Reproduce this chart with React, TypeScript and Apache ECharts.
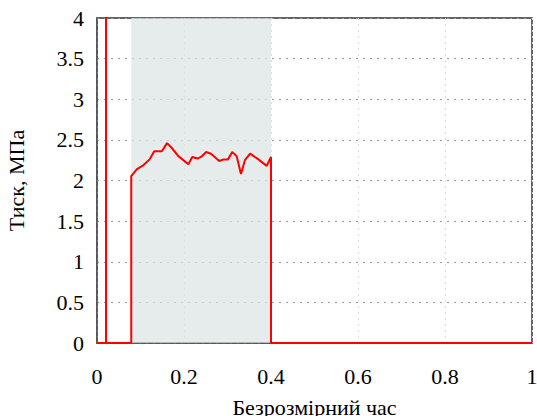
import React, { useEffect, useRef } from "react";
import * as echarts from "echarts";

// Dimensionless time (x) and pressure in MPa (y)
const timeValues: number[] = [
  0, 0.0207, 0.0207, 0.0207, 0.0787, 0.0787, 0.0918, 0.107, 0.121, 0.1315, 0.149, 0.161,
  0.172, 0.187, 0.21, 0.219, 0.231, 0.239, 0.251, 0.262, 0.281, 0.291, 0.301,
  0.311, 0.321, 0.331, 0.34, 0.352, 0.371, 0.39, 0.4, 0.4, 1,
];
const pressureValues: number[] = [
  0, 0, 5, 0, 0, 2.055, 2.14, 2.19, 2.26, 2.36, 2.36, 2.46,
  2.4, 2.3, 2.2, 2.29, 2.27, 2.29, 2.35, 2.33, 2.24, 2.26, 2.26,
  2.35, 2.3, 2.08, 2.25, 2.33, 2.26, 2.18, 2.29, 0, 0,
];
const shadedRange: number[] = [0.0787, 0.4];
const xTicks = { min: 0, max: 1, interval: 0.2 };
const yTicks = { min: 0, max: 4, interval: 0.5 };

const FONT = "Times New Roman, Liberation Serif, serif";

export default function App() {
  const ref = useRef<HTMLDivElement>(null);
  useEffect(() => {
    if (!ref.current) return;
    const chart = echarts.init(ref.current, null, { renderer: "svg" });
    const data = timeValues.map((t, i) => [t, pressureValues[i]]);
    chart.setOption({
      animation: false,
      backgroundColor: "#fff",
      textStyle: { fontFamily: FONT },
      grid: {
        left: 97,
        right: 5,
        top: 18,
        bottom: 73,
        outerBoundsMode: "none",
        containLabel: false,
        show: true,
        borderColor: "#333",
        borderWidth: 1.5,
        backgroundColor: "transparent",
      },
      xAxis: {
        type: "value",
        min: xTicks.min,
        max: xTicks.max,
        interval: xTicks.interval,
        name: "Безрозмірний час",
        nameLocation: "middle",
        nameGap: 53,
        nameTextStyle: { fontFamily: FONT, fontSize: 22, color: "#000" },
        axisLine: { show: true, lineStyle: { color: "#555", width: 1.5 } },
        axisTick: { show: false },
        axisLabel: { fontFamily: FONT, fontSize: 22, color: "#000", margin: 22 },
        splitLine: { show: true, lineStyle: { color: "#ddd", type: [2, 4], width: 1 } },
      },
      yAxis: {
        type: "value",
        min: yTicks.min,
        max: yTicks.max,
        interval: yTicks.interval,
        name: "Тиск, МПа",
        nameLocation: "middle",
        nameGap: 70,
        nameTextStyle: { fontFamily: FONT, fontSize: 22, color: "#000" },
        axisLine: { show: true, lineStyle: { color: "#555", width: 1.5 } },
        axisTick: { show: false },
        axisLabel: { fontFamily: FONT, fontSize: 22, color: "#000", margin: 13 },
        splitLine: { show: true, lineStyle: { color: "#999", type: [2, 5], width: 1 } },
      },
      series: [
        {
          type: "line",
          data,
          symbol: "none",
          clip: true,
          lineStyle: { color: "#ff0000", width: 2 },
          markArea: {
            silent: true,
            itemStyle: { color: "rgba(220,228,228,0.7)" },
            data: [[{ xAxis: shadedRange[0] }, { xAxis: shadedRange[1] }]],
          },
        },
      ],
    });
    return () => chart.dispose();
  }, []);
  return (
    <div
      ref={ref}
      style={{ position: "fixed", left: 0, top: 0, width: 537, height: 416 }}
    />
  );
}
